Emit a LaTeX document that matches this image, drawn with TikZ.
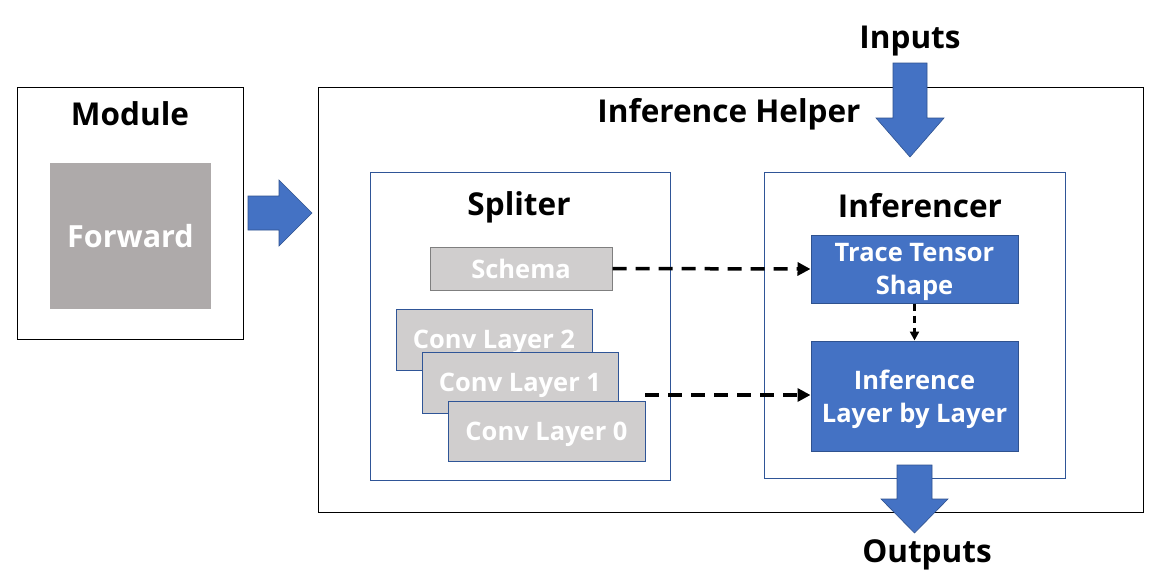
\documentclass[tikz,border=0pt]{standalone}
\usepackage{fontspec}
\setmainfont{Open Sans}
\usetikzlibrary{arrows.meta}
\definecolor{blu}{HTML}{4472C4}
\definecolor{bluedge}{HTML}{2F528F}
\definecolor{frameblue}{HTML}{2F5597}
\definecolor{lgray}{HTML}{D0CECE}
\definecolor{mgray}{HTML}{AEAAAA}
\definecolor{sgray}{HTML}{7F7F7F}
\begin{document}
\begin{tikzpicture}[x=1pt,y=-1pt,
  outerbox/.style={draw=black,line width=1pt,fill=white,inner sep=0pt},
  innerframe/.style={draw=frameblue,line width=0.8pt,fill=white,inner sep=0pt},
  title/.style={font=\bfseries\fontsize{31.5}{35}\selectfont,text=black,inner sep=0pt},
  graybox/.style={fill=lgray,inner sep=0pt,text depth=0pt,text=white,font=\bfseries\fontsize{25.5}{30}\selectfont},
  bluebox/.style={fill=blu,draw=bluedge,line width=1pt,inner sep=0pt,text depth=0pt,text=white,align=center,font=\bfseries\fontsize{25.5}{33.5}\selectfont},
  fatarrow/.style={fill=blu,draw=bluedge,line width=0.6pt},
  dasharrow/.style={line width=3.5pt,dash pattern=on 14pt off 9pt,-{Triangle[length=13pt,width=13pt]}},
  smalldash/.style={line width=2.5pt,dash pattern=on 7pt off 5pt,-{Triangle[length=9pt,width=9pt]}}]
\useasboundingbox (0,0) rectangle (1160,581);
\fill[white] (0,0) rectangle (1160,581);

% Module
\node[outerbox,minimum width=226pt,minimum height=252pt] (module) at (130,213) {};
\node[title] (moduletitle) at (130,114) {Module};
\node[fill=mgray,inner sep=0pt,minimum width=161pt,minimum height=146pt,text=white,font=\bfseries\fontsize{30.5}{34}\selectfont] (forward) at (130.5,236) {Forward};

% Arrow module -> helper
\draw[fatarrow] (248,196) -- (279,196) -- (279,180) -- (312,213) -- (279,246) -- (279,230) -- (248,230) -- cycle;

% Inference Helper
\node[outerbox,minimum width=825pt,minimum height=425pt] (helper) at (730.5,299.5) {};
\node[title] (helpertitle) at (729,114) {Inference Helper};

% Spliter
\node[innerframe,minimum width=300pt,minimum height=308pt] (spliter) at (520,326) {};
\node[title] (splitertitle) at (519,207) {Spliter};

% Inferencer
\node[innerframe,minimum width=301pt,minimum height=306pt] (inferencer) at (914.5,325) {};
\node[title] (inferencertitle) at (920,206) {Inferencer};

% Schema and conv layers
\node[graybox,draw=sgray,line width=1pt,minimum width=182pt,minimum height=43pt] (schema) at (521,268.5) {Schema};
\node[graybox,draw=frameblue,line width=1pt,minimum width=196pt,minimum height=61pt] (conv2) at (494,339.5) {Conv Layer 2};
\node[graybox,draw=frameblue,line width=1pt,minimum width=196pt,minimum height=61pt] (conv1) at (520,382.5) {Conv Layer 1};
\node[graybox,draw=frameblue,line width=1pt,minimum width=197pt,minimum height=60pt] (conv0) at (546.5,431) {Conv Layer 0};

% Inferencer blocks
\node[bluebox,minimum width=207pt,minimum height=68pt] (trace) at (914.5,269) {Trace Tensor\\Shape};
\node[bluebox,minimum width=207pt,minimum height=110pt] (infer) at (914.5,396) {Inference\\Layer by Layer};

% Dashed connectors
\draw[dasharrow] (schema.east) -- (trace.west);
\coordinate (stackout) at (645,395);
\draw[dasharrow] (stackout) -- (infer.west |- stackout);
\draw[smalldash] (trace.south) -- (infer.north);

% Inputs / Outputs
\node[title] (inputs) at (910,41) {Inputs};
\draw[fatarrow] (893,63) -- (927,63) -- (927,118) -- (944,118) -- (910,157) -- (876,118) -- (893,118) -- cycle;
\draw[fatarrow] (897,465) -- (932,465) -- (932,499) -- (948,499) -- (914.5,533) -- (881,499) -- (897,499) -- cycle;
\node[title] (outputs) at (927,555) {Outputs};
\end{tikzpicture}
\end{document}
